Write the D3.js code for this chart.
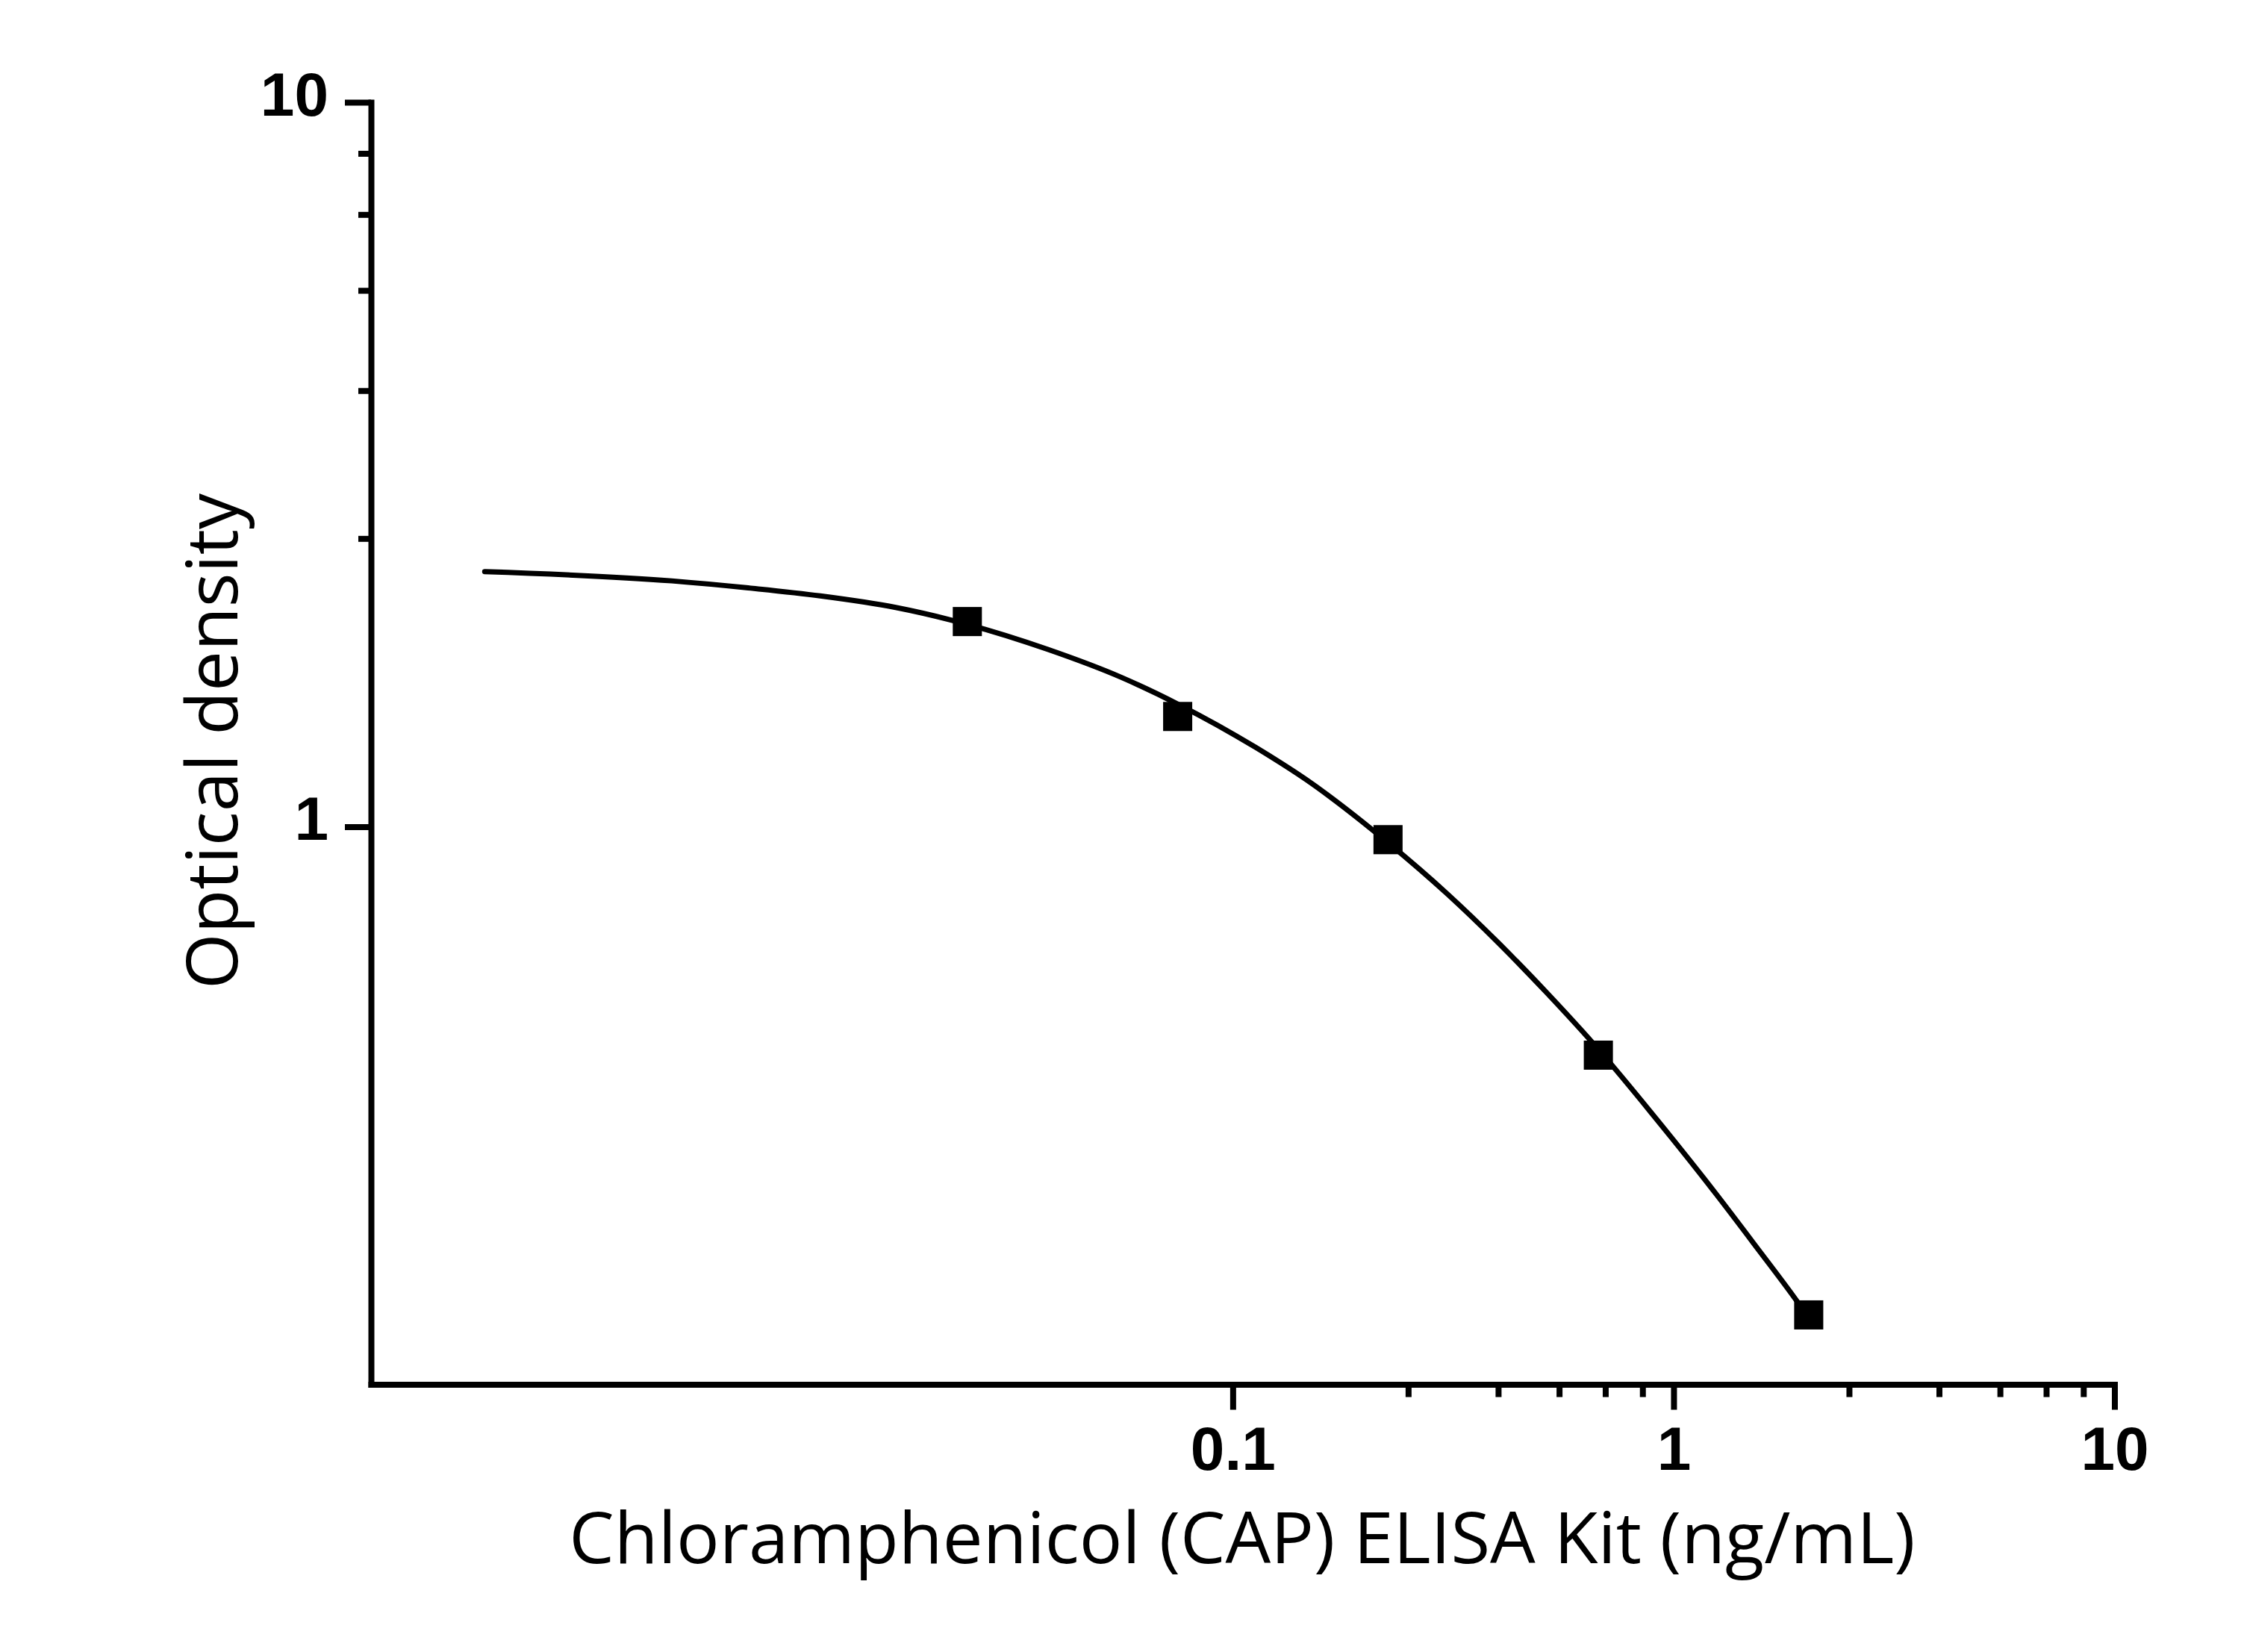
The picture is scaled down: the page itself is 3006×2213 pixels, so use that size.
<html>
<head>
<script src="https://d3js.org/d3.v7.min.js"></script>
<style>
  body { margin: 0; background: #fff; }
</style>
</head>
<body>
<script>

  // measured standards (ng/mL) and their optical density
  const concentrations = [0.025, 0.075, 0.225, 0.675, 2.025];
  const opticalDensity = [1.92, 1.42, 0.96, 0.484, 0.212];

  // fitted curve
  const fitConc = [0.00201, 0.00534, 0.00788, 0.0116, 0.0172, 0.0251, 0.038, 0.056, 0.0754, 0.113,
                   0.147, 0.225, 0.308, 0.40, 0.517, 0.677, 0.893, 1.25, 1.52, 1.93, 2.025];
  const fitOD = [2.250, 2.185, 2.138, 2.083, 2.008, 1.902, 1.758, 1.607, 1.475, 1.286,
                 1.161, 0.951, 0.806, 0.692, 0.589, 0.492, 0.402, 0.311, 0.266, 0.219, 0.210];

  // axis ticks
  const xMajorTicks = [0.1, 1, 10];
  const xTickLabels = ["0.1", "1", "10"];
  const xMinorTicks = [0.25, 0.4, 0.55, 0.7, 0.85, 2.5, 4, 5.5, 7, 8.5];
  const yMajorTicks = [1, 10];
  const yTickLabels = ["1", "10"];
  const yMinorTicks = [2.5, 4, 5.5, 7, 8.5];

  const xTitle = "Chloramphenicol (CAP) ELISA Kit (ng/mL)";
  const yTitle = "Optical density";

  const width = 3006, height = 2213;
  const plotLeft = 497, plotRight = 2832.5, plotTop = 137, plotBottom = 1854.5;

  let svg = d3.select("body").append("svg")
      .attr("width", width)
      .attr("height", height)
      .style("background", "#fff");

  let x = d3.scaleLog()
      .domain([0.00111, 10])
      .range([plotLeft, plotRight]);

  let y = d3.scaleLog()
      .domain([0.17, 10])
      .range([plotBottom, plotTop]);

  // x axis
  let xAxis = svg.append("g")
      .attr("transform", `translate(0,${plotBottom})`)
      .call(d3.axisBottom(x)
        .tickValues(xMajorTicks)
        .tickFormat((d, i) => xTickLabels[i])
        .tickSizeOuter(0)
        .tickSizeInner(34)
        .tickPadding(22));

  svg.append("g")
      .attr("class", "minor")
      .attr("transform", `translate(0,${plotBottom})`)
      .call(d3.axisBottom(x)
        .tickValues(xMinorTicks)
        .tickFormat("")
        .tickSizeOuter(0)
        .tickSizeInner(17))
      .select(".domain").remove();

  // y axis
  let yAxis = svg.append("g")
      .attr("transform", `translate(${plotLeft},0)`)
      .call(d3.axisLeft(y)
        .tickValues(yMajorTicks)
        .tickFormat((d, i) => yTickLabels[i])
        .tickSizeOuter(0)
        .tickSizeInner(35)
        .tickPadding(22));

  svg.append("g")
      .attr("class", "minor")
      .attr("transform", `translate(${plotLeft},0)`)
      .call(d3.axisLeft(y)
        .tickValues(yMinorTicks)
        .tickFormat("")
        .tickSizeOuter(0)
        .tickSizeInner(17))
      .select(".domain").remove();

  svg.selectAll(".domain")
      .attr("stroke", "#000")
      .attr("stroke-width", 8)
      .attr("stroke-linecap", "square");

  svg.selectAll(".tick line")
      .attr("stroke", "#000")
      .attr("stroke-width", 8);

  svg.selectAll(".tick text")
      .attr("fill", "#000")
      .style("font-family", "'Liberation Sans', Arial, sans-serif")
      .style("font-weight", "bold")
      .style("font-size", "82px");

  yAxis.selectAll(".tick text")
      .attr("dy", "0.21em");

  xAxis.selectAll(".tick text")
      .attr("dy", "0.71em");

  // fitted curve
  let line = d3.line()
      .x(d => x(d[0]))
      .y(d => y(d[1]))
      .curve(d3.curveMonotoneX);

  svg.append("path")
      .datum(fitConc.map((c, i) => [c, fitOD[i]]))
      .attr("d", line)
      .attr("fill", "none")
      .attr("stroke", "#000")
      .attr("stroke-width", 7)
      .attr("stroke-linecap", "round")
      .attr("stroke-linejoin", "round");

  // standard points
  const size = 39;
  svg.selectAll("rect.point")
      .data(concentrations)
      .enter().append("rect")
      .attr("class", "point")
      .attr("x", d => x(d) - size / 2)
      .attr("y", (d, i) => y(opticalDensity[i]) - size / 2)
      .attr("width", size)
      .attr("height", size)
      .attr("fill", "#000");

  // axis titles
  svg.append("text")
      .attr("x", 1664)
      .attr("y", 2094)
      .attr("text-anchor", "middle")
      .style("font-family", "'Open Sans', sans-serif")
      .style("font-size", "96px")
      .attr("fill", "#000")
      .text(xTitle);

  svg.append("text")
      .attr("transform", "translate(318,993) rotate(-90)")
      .attr("text-anchor", "middle")
      .style("font-family", "'Open Sans', sans-serif")
      .style("font-size", "96px")
      .attr("fill", "#000")
      .text(yTitle);

</script>
</body>
</html>
